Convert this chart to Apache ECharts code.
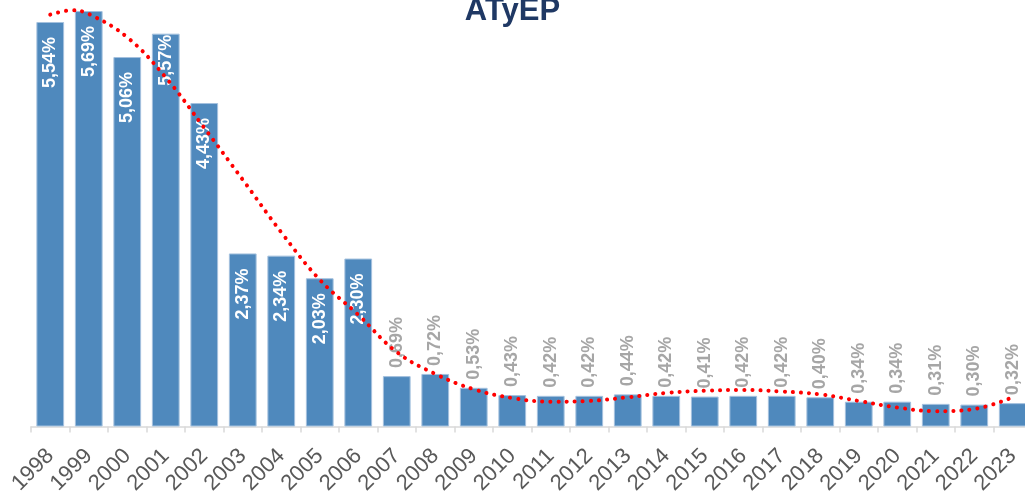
<!DOCTYPE html>
<html>
<head>
<meta charset="utf-8">
<script src="https://cdn.jsdelivr.net/npm/echarts@6/dist/echarts.min.js"></script>
<style>
html,body{margin:0;padding:0;background:#fff;}
#chart{width:1025px;height:494px;}
</style>
</head>
<body>
<div id="chart"></div>
<script>
const years = ['1998','1999','2000','2001','2002','2003','2004','2005','2006','2007','2008','2009','2010','2011','2012','2013','2014','2015','2016','2017','2018','2019','2020','2021','2022','2023'];
// values printed on the bars
const labelValues = [5.54,5.69,5.06,5.57,4.43,2.37,2.34,2.03,2.30,0.69,0.72,0.53,0.43,0.42,0.42,0.44,0.42,0.41,0.42,0.42,0.40,0.34,0.34,0.31,0.30,0.32];
// bar heights as drawn in the picture (2001 bar is drawn lower than its label)
const barHeights = [5.54,5.69,5.06,5.38,4.43,2.37,2.34,2.03,2.30,0.69,0.72,0.53,0.43,0.42,0.42,0.44,0.42,0.41,0.42,0.42,0.40,0.34,0.34,0.31,0.30,0.32];
// trend line: positions in category units (0 = left edge of 1998)
const trendX = [0.5,1.07,1.5,2.5,3.5,4.5,5.5,6.5,7.5,8.5,9.5,10.5,11.5,12.5,13.5,14.5,15.5,16.5,17.5,18.5,19.5,20.5,21.5,22.5,23.5,24.5,25.5];
const trendY = [5.64,5.70,5.65,5.33,4.78,4.09,3.38,2.66,2.01,1.53,1.02,0.72,0.51,0.39,0.34,0.35,0.40,0.46,0.49,0.50,0.48,0.44,0.35,0.26,0.21,0.24,0.40];
const threshold = 1;

const fmt = v => v.toFixed(2).replace('.', ',') + '%';
const FONT = '"Liberation Sans", Arial, sans-serif';

const labelData = labelValues.map(v => {
  const inside = v > threshold;
  return {
    value: v,
    label: inside ? {
      position: 'insideTop', distance: 15, rotate: 90, align: 'right', verticalAlign: 'middle',
      color: '#ffffff'
    } : {
      position: 'top', distance: 8, rotate: 90, align: 'left', verticalAlign: 'middle',
      color: '#a6a6a6'
    }
  };
});

const chart = echarts.init(document.getElementById('chart'), null, {renderer: 'canvas'});
chart.setOption({
  animation: false,
  backgroundColor: '#ffffff',
  title: {
    text: 'ATyEP', left: 'center', top: -4, padding: 0,
    textStyle: {fontFamily: FONT, fontSize: 31, fontWeight: 'bold', color: '#1f3864'}
  },
  grid: {left: 31, right: -7, top: 3, bottom: 67.5, containLabel: false, outerBoundsMode: 'none'},
  xAxis: [{
    type: 'category', data: years, boundaryGap: true,
    axisLine: {lineStyle: {color: '#d9d9d9', width: 1.5}},
    axisTick: {show: true, length: 6, alignWithLabel: false, lineStyle: {color: '#d9d9d9', width: 1.5}},
    axisLabel: {rotate: 45, fontSize: 22, color: '#595959', margin: 26, fontFamily: FONT, interval: 0}
  }, {
    type: 'value', min: 0, max: years.length, show: false
  }],
  yAxis: {type: 'value', min: 0, max: 5.8, show: false, splitLine: {show: false}},
  series: [{
    type: 'bar', data: barHeights, barWidth: '72%', barGap: '-100%', xAxisIndex: 0,
    itemStyle: {color: '#4f89bd', borderColor: '#a4c1de', borderWidth: 1},
    label: {show: false},
    z: 2
  }, {
    type: 'bar', data: labelData, barWidth: '72%', barGap: '-100%', xAxisIndex: 0,
    itemStyle: {color: 'rgba(0,0,0,0)', borderWidth: 0},
    label: {show: true, formatter: p => fmt(p.value), fontFamily: FONT, fontSize: 18, fontWeight: 'bold'},
    emphasis: {disabled: true},
    z: 3
  }, {
    type: 'line', xAxisIndex: 1, data: trendX.map((x, i) => [x, trendY[i]]),
    smooth: 0.4, symbol: 'none', z: 10,
    lineStyle: {color: '#ff0000', width: 4, type: [0.1, 8], cap: 'round'}
  }]
});
</script>
</body>
</html>
